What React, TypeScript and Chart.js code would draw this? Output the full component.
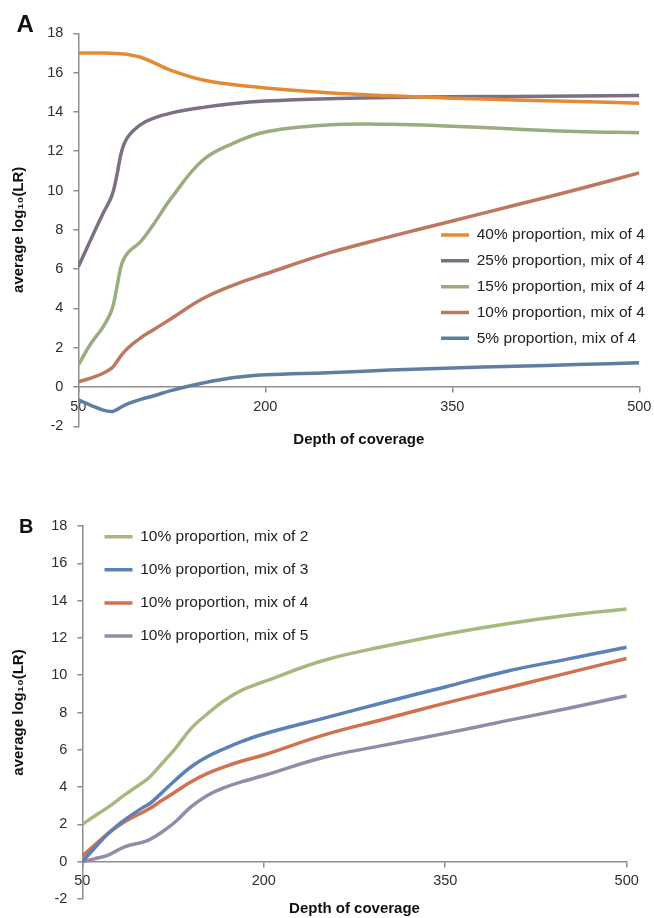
import React, { useEffect, useRef } from 'react';
import { Chart, registerables } from 'chart.js';

Chart.register(...registerables);

// ---------------- DATA ----------------
const X_TICKS = [50, 200, 350, 500];
const Y_MIN = -2;
const Y_MAX = 18;
const Y_STEP = 2;

// Panel A: depth of coverage and average log10(LR), mix of 4
const DEPTH_A = [50, 60, 70, 77, 81, 85, 90, 100, 110, 125, 150, 175, 200, 250, 300, 350, 400, 450, 500];
const A_40 = [17.0, 17.0, 17.0, 16.98, 16.97, 16.95, 16.92, 16.78, 16.52, 16.1, 15.62, 15.38, 15.22, 14.98, 14.82, 14.7, 14.61, 14.53, 14.44];
const A_25 = [6.12, 7.5, 8.85, 9.75, 10.8, 12.05, 12.75, 13.35, 13.67, 13.95, 14.23, 14.43, 14.55, 14.67, 14.73, 14.77, 14.79, 14.81, 14.84];
const A_15 = [1.12, 2.2, 3.07, 3.95, 5.1, 6.3, 6.85, 7.4, 8.25, 9.65, 11.55, 12.42, 12.98, 13.33, 13.37, 13.27, 13.13, 13.0, 12.94];
const A_10 = [0.27, 0.45, 0.7, 0.97, 1.3, 1.65, 2.0, 2.5, 2.9, 3.5, 4.5, 5.2, 5.75, 6.8, 7.65, 8.45, 9.25, 10.05, 10.9];
const A_05 = [-0.66, -0.93, -1.18, -1.25, -1.15, -1.0, -0.85, -0.63, -0.46, -0.17, 0.2, 0.48, 0.62, 0.73, 0.86, 0.97, 1.05, 1.14, 1.24];
const LABELS_A = [
  '40% proportion, mix of 4',
  '25% proportion, mix of 4',
  '15% proportion, mix of 4',
  '10% proportion, mix of 4',
  '5% proportion, mix of 4',
];

// Panel B: 10% proportion, mixes of 2..5
const DEPTH_B = [50, 60, 72, 85, 100, 106, 115, 127, 140, 154, 168, 182, 200, 250, 300, 350, 400, 450, 500];
const B_M2 = [2.0, 2.44, 2.95, 3.58, 4.25, 4.56, 5.2, 6.08, 7.15, 7.96, 8.67, 9.2, 9.65, 10.8, 11.55, 12.2, 12.75, 13.2, 13.55];
const B_M3 = [0.0, 0.72, 1.55, 2.24, 2.9, 3.13, 3.65, 4.38, 5.09, 5.65, 6.07, 6.45, 6.85, 7.7, 8.55, 9.37, 10.2, 10.85, 11.5];
const B_M4 = [0.3, 0.88, 1.55, 2.14, 2.65, 2.86, 3.25, 3.75, 4.29, 4.75, 5.1, 5.4, 5.72, 6.8, 7.65, 8.5, 9.3, 10.1, 10.9];
const B_M5 = [0.0, 0.15, 0.37, 0.8, 1.05, 1.2, 1.55, 2.14, 2.95, 3.58, 3.99, 4.29, 4.62, 5.6, 6.25, 6.88, 7.55, 8.2, 8.9];
const LABELS_B = [
  '10% proportion, mix of 2',
  '10% proportion, mix of 3',
  '10% proportion, mix of 4',
  '10% proportion, mix of 5',
];

const X_TITLE = 'Depth of coverage';
const Y_TITLE = 'average log\u2081\u2080(LR)';

// ---------------- STYLE ----------------
const FAMILY = "'Liberation Sans', Arial, 'DejaVu Sans', sans-serif";
const AXIS = '#8e8e8e';
const TICK = '#2e2e2e';
const COLORS_A = ['#E38B34', '#7D6F86', '#9AAD7E', '#BC7860', '#5F7FA2'];
const COLORS_B = ['#A5B87F', '#5B81B6', '#D0714F', '#968AAA'];

type Geo = {
  height: number;
  top: number;
  left: number;
  right: number;
  titleTop: number;
  titleBottom: number;
  legendLeft: number;
  legendTop: number;
  legendPad: number;
};

function buildConfig(depth: number[], series: number[][], labels: string[], colors: string[], g: Geo): any {
  const datasets = series.map((vals, i) => ({
    label: labels[i],
    data: depth.map((d, j) => ({ x: d, y: vals[j] })),
    borderColor: colors[i],
    backgroundColor: colors[i],
    borderWidth: 3.5,
    pointRadius: 0,
    pointHoverRadius: 0,
    fill: false,
    tension: 0.4,
    xAxisID: 'x',
    yAxisID: 'y',
  }));

  const legendPlacer = {
    id: 'legendPlacer',
    afterLayout(chart: any) {
      const lg = chart.legend;
      if (!lg) return;
      const w = lg.width;
      const h = lg.height;
      lg.left = g.legendLeft;
      lg.top = g.legendTop;
      lg.right = g.legendLeft + w;
      lg.bottom = g.legendTop + h;
    },
  };

  return {
    type: 'line',
    data: { datasets },
    plugins: [legendPlacer],
    options: {
      responsive: false,
      maintainAspectRatio: false,
      animation: false,
      events: [],
      layout: { padding: { left: 0, top: g.top, right: 654 - g.right, bottom: 0 } },
      plugins: {
        tooltip: { enabled: false },
        title: { display: false },
        legend: {
          display: true,
          position: 'chartArea',
          align: 'start',
          labels: {
            usePointStyle: true,
            pointStyle: 'line',
            pointStyleWidth: 28,
            padding: g.legendPad,
            color: '#222222',
            font: { family: FAMILY, size: 15.5 },
          },
        },
      },
      scales: {
        x: {
          type: 'linear',
          position: { y: 0 },
          min: X_TICKS[0],
          max: X_TICKS[X_TICKS.length - 1],
          afterBuildTicks: (s: any) => {
            s.ticks = X_TICKS.map((v) => ({ value: v }));
          },
          afterFit: (s: any) => {
            s.paddingLeft = 0;
            s.paddingRight = 0;
          },
          grid: { drawOnChartArea: false, drawTicks: true, tickLength: 5, color: AXIS, lineWidth: 1.5 },
          border: { display: true, color: AXIS, width: 1.5 },
          ticks: {
            color: TICK,
            font: { family: FAMILY, size: 14.5 },
            padding: 6,
            maxRotation: 0,
            autoSkip: false,
          },
        },
        x2: {
          type: 'linear',
          position: 'bottom',
          min: X_TICKS[0],
          max: X_TICKS[X_TICKS.length - 1],
          ticks: { display: false },
          grid: { display: false, drawTicks: false },
          border: { display: false },
          afterFit: (s: any) => {
            s.paddingLeft = 0;
            s.paddingRight = 0;
          },
          title: {
            display: true,
            text: X_TITLE,
            color: '#111111',
            font: { family: FAMILY, size: 15, weight: 'bold' },
            padding: { top: g.titleTop, bottom: g.titleBottom },
          },
        },
        y: {
          type: 'linear',
          position: 'left',
          min: Y_MIN,
          max: Y_MAX,
          ticks: {
            stepSize: Y_STEP,
            color: TICK,
            font: { family: FAMILY, size: 14.5 },
            padding: 10,
          },
          grid: { drawOnChartArea: false, drawTicks: true, tickLength: 5, color: AXIS, lineWidth: 1.5 },
          border: { display: true, color: AXIS, width: 1.5 },
          title: {
            display: true,
            text: Y_TITLE,
            color: '#111111',
            font: { family: FAMILY, size: 15, weight: 'bold' },
            padding: { top: 10.2, bottom: 0 },
          },
          afterFit: (s: any) => {
            s.width = g.left;
            s.paddingTop = 0;
            s.paddingBottom = 0;
          },
        },
      },
    },
  };
}

function Panel(props: { depth: number[]; series: number[][]; labels: string[]; colors: string[]; geo: Geo; y: number }) {
  const ref = useRef<HTMLCanvasElement | null>(null);
  useEffect(() => {
    if (!ref.current) return;
    const chart = new Chart(ref.current, buildConfig(props.depth, props.series, props.labels, props.colors, props.geo));
    return () => chart.destroy();
  }, []);
  return (
    <canvas
      ref={ref}
      width={654}
      height={props.geo.height}
      style={{ position: 'absolute', left: 0, top: props.y, width: 654, height: props.geo.height, display: 'block' }}
    />
  );
}

const GEO_A: Geo = {
  height: 459,
  top: 33.3,
  left: 78.3,
  right: 639.3,
  titleTop: 4.7,
  titleBottom: 10,
  legendLeft: 430.7,
  legendTop: 217,
  legendPad: 10.3,
};

const GEO_B: Geo = {
  height: 459,
  top: 67,
  left: 82.3,
  right: 626.7,
  titleTop: 1,
  titleBottom: 0,
  legendLeft: 86.9,
  legendTop: 52.4,
  legendPad: 17.6,
};

export default function App() {
  return (
    <div style={{ position: 'absolute', left: 0, top: 0, width: 654, height: 918, overflow: 'hidden', background: '#ffffff' }}>
      <Panel depth={DEPTH_A} series={[A_40, A_25, A_15, A_10, A_05]} labels={LABELS_A} colors={COLORS_A} geo={GEO_A} y={0} />
      <Panel depth={DEPTH_B} series={[B_M2, B_M3, B_M4, B_M5]} labels={LABELS_B} colors={COLORS_B} geo={GEO_B} y={459} />
      <div
        style={{
          position: 'absolute',
          left: 16.5,
          top: 12,
          fontFamily: FAMILY,
          fontWeight: 'bold',
          fontSize: 24,
          lineHeight: '24px',
          color: '#111',
        }}
      >
        A
      </div>
      <div
        style={{
          position: 'absolute',
          left: 19,
          top: 515.7,
          fontFamily: FAMILY,
          fontWeight: 'bold',
          fontSize: 20,
          lineHeight: '20px',
          color: '#111',
        }}
      >
        B
      </div>
    </div>
  );
}
